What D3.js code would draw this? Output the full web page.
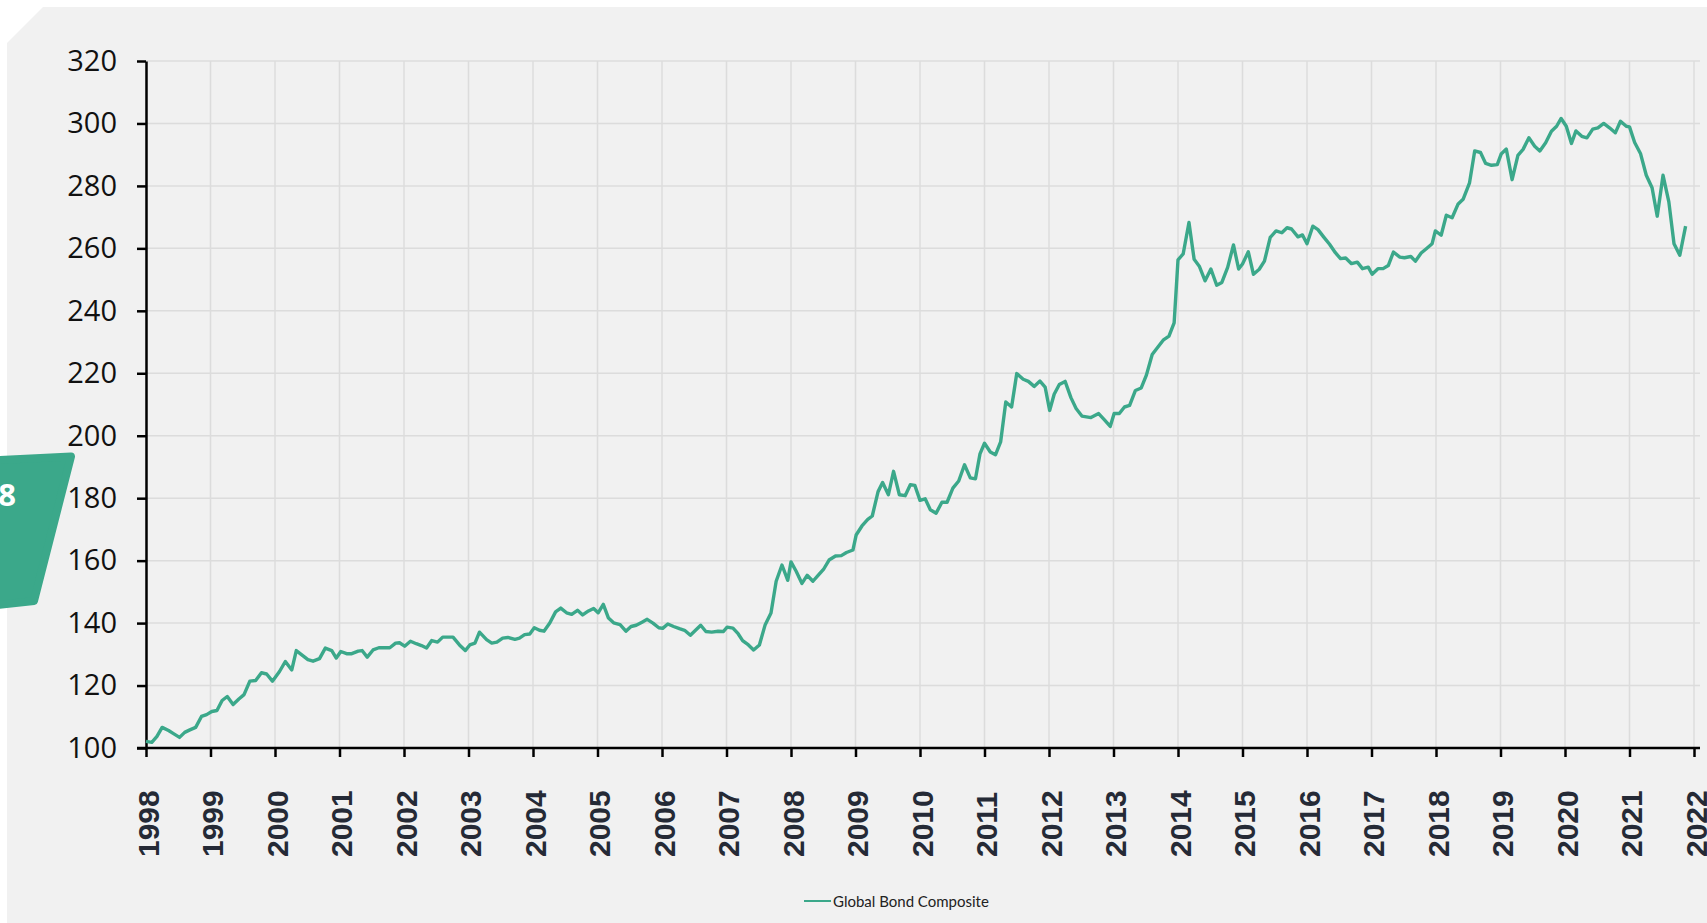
<!DOCTYPE html>
<html>
<head>
  <meta charset="utf-8">
  <title>Global Bond Composite</title>
  <script src="https://d3js.org/d3.v7.min.js"></script>
  <style>
    body { margin: 0; background: #fff; }
  </style>
</head>
<body>
<div id="chart"></div>
<script type="text/javascript">
  // series values (decimal year, index level)
  let dates = [
    1998.00,1998.09,1998.17,1998.25,1998.35,1998.42,1998.52,1998.60,1998.68,1998.77,1998.86,1998.94,
    1999.02,1999.10,1999.18,1999.26,1999.35,1999.44,1999.52,1999.61,1999.70,1999.79,1999.87,1999.96,
    2000.07,2000.16,2000.26,2000.33,2000.43,2000.51,2000.59,2000.69,2000.78,2000.88,2000.95,
    2001.02,2001.11,2001.19,2001.29,2001.35,2001.43,2001.52,2001.61,2001.78,2001.87,2001.93,
    2002.01,2002.10,2002.19,2002.27,2002.35,2002.43,2002.52,2002.60,2002.76,2002.86,2002.95,
    2003.02,2003.10,2003.17,2003.28,2003.36,2003.44,2003.53,2003.61,2003.72,2003.79,2003.87,2003.95,
    2004.02,2004.10,2004.17,2004.26,2004.35,2004.43,2004.52,2004.60,2004.69,2004.77,2004.86,2004.94,
    2005.01,2005.09,2005.17,2005.25,2005.35,2005.44,2005.52,2005.60,2005.69,2005.77,2005.86,2005.95,
    2006.01,2006.09,2006.18,2006.27,2006.35,2006.44,2006.52,2006.60,2006.68,2006.77,2006.87,2006.95,
    2007.01,2007.10,2007.18,2007.25,2007.34,2007.42,2007.51,2007.60,2007.69,2007.77,2007.86,2007.95,
    2008.00,2008.08,2008.17,2008.25,2008.34,2008.42,2008.51,2008.59,2008.69,2008.78,2008.86,2008.96,
    2009.01,2009.10,2009.19,2009.26,2009.35,2009.42,2009.51,2009.59,2009.68,2009.77,2009.85,2009.92,
    2010.00,2010.08,2010.16,2010.25,2010.34,2010.42,2010.51,2010.60,2010.69,2010.78,2010.86,2010.93,
    2011.00,2011.09,2011.17,2011.25,2011.33,2011.42,2011.50,2011.60,2011.68,2011.77,2011.86,2011.94,
    2012.01,2012.08,2012.16,2012.25,2012.34,2012.42,2012.51,2012.65,2012.77,2012.86,2012.95,
    2013.01,2013.09,2013.17,2013.25,2013.34,2013.43,2013.51,2013.60,2013.68,2013.77,2013.86,2013.94,
    2014.00,2014.08,2014.17,2014.25,2014.33,2014.42,2014.51,2014.60,2014.68,2014.77,2014.86,2014.94,
    2015.00,2015.09,2015.17,2015.26,2015.34,2015.43,2015.52,2015.61,2015.69,2015.76,2015.86,2015.93,
    2016.00,2016.09,2016.17,2016.26,2016.35,2016.44,2016.52,2016.60,2016.69,2016.78,2016.86,2016.95,
    2017.01,2017.10,2017.18,2017.26,2017.34,2017.44,2017.51,2017.61,2017.68,2017.77,2017.85,2017.94,
    2017.99,2018.08,2018.16,2018.25,2018.34,2018.42,2018.52,2018.60,2018.69,2018.77,2018.86,2018.95,
    2019.01,2019.09,2019.18,2019.27,2019.35,2019.44,2019.53,2019.61,2019.70,2019.79,2019.87,2019.94,
    2020.02,2020.10,2020.17,2020.26,2020.34,2020.43,2020.51,2020.60,2020.69,2020.78,2020.86,2020.95,
    2021.00,2021.08,2021.17,2021.26,2021.35,2021.43,2021.52,2021.61,2021.69,2021.78,2021.87
  ];
  let bondComposite = [
    102.1,101.8,103.7,106.6,105.6,104.7,103.4,105.0,105.8,106.6,110.1,110.7,
    111.7,112.0,115.2,116.5,113.9,115.7,117.1,121.4,121.6,124.1,123.7,121.4,
    124.5,127.7,125.0,131.2,129.6,128.3,127.8,128.6,132.0,131.2,128.8,
    130.9,130.2,130.2,131.0,131.2,129.1,131.4,132.1,132.1,133.6,133.7,
    132.6,134.2,133.4,132.8,132.0,134.4,133.9,135.5,135.5,133.0,131.2,
    133.0,133.6,137.1,134.7,133.6,133.9,135.2,135.4,134.8,135.2,136.3,136.5,
    138.5,137.7,137.4,140.0,143.6,144.8,143.3,142.8,144.1,142.6,143.9,144.7,
    143.3,146.0,141.6,140.1,139.5,137.4,138.9,139.3,140.3,141.2,140.0,138.5,
    138.3,139.7,138.9,138.2,137.7,136.1,137.7,139.3,137.3,137.1,137.4,137.3,
    138.7,138.4,136.6,134.4,133.0,131.4,133.0,139.5,143.2,153.4,158.6,153.7,
    159.6,156.6,152.7,155.3,153.4,155.3,157.4,160.2,161.5,161.6,162.6,163.4,
    168.2,171.1,173.2,174.3,182.1,185.0,181.1,188.6,181.1,180.8,184.3,184.1,
    179.3,179.8,176.3,175.2,178.7,178.7,183.2,185.5,190.7,186.5,186.2,194.2,
    197.6,194.8,193.9,198.0,210.8,209.2,219.9,218.1,217.4,215.8,217.5,215.6,
    208.1,213.3,216.4,217.4,212.2,208.7,206.3,205.8,207.1,205.1,203.0,
    207.1,207.1,209.2,209.7,214.5,215.3,219.4,226.0,228.2,230.6,231.9,236.1,
    256.3,258.2,268.3,256.5,254.3,249.6,253.4,248.2,249.1,253.9,261.1,253.4,
    255.0,258.9,251.7,253.3,255.9,263.5,265.6,265.0,266.6,266.2,263.7,264.3,
    261.5,267.1,266.0,263.6,261.3,258.6,256.7,256.9,255.1,255.6,253.5,254.0,
    251.7,253.5,253.5,254.5,258.8,257.2,257.0,257.4,255.9,258.5,259.9,261.5,
    265.6,264.2,270.6,269.8,274.1,275.7,281.0,291.2,290.7,287.2,286.6,286.8,
    290.2,291.8,282.0,289.8,291.7,295.4,292.7,291.2,293.8,297.5,299.1,301.6,
    299.1,293.6,297.6,295.9,295.4,298.2,298.6,300.0,298.6,297.0,300.7,299.1,
    298.9,293.9,290.4,283.4,279.4,270.3,283.4,274.9,261.5,257.8,267.1
  ];
  let yearTicks = d3.range(1998, 2023);
  let valueTicks = [100, 120, 140, 160, 180, 200, 220, 240, 260, 280, 300, 320];
  let seriesName = 'Global Bond Composite';

  let w = 1707;
  let h = 923;
  let green = '#3ba88a';

  let xScale = d3.scaleLinear()
                .domain([1998, 2022])
                .range([146, 1694]);

  let yScale = d3.scaleLinear()
                .domain([100, 320])
                .range([748, 61]);

  let svg = d3.select('#chart')
              .append('svg')
              .attr('width', w)
              .attr('height', h);

  // panel with the cut corner
  svg.append('path')
     .attr('d', 'M7,43 L43,7 L1707,7 L1707,923 L7,923 Z')
     .attr('fill', '#f1f1f1');

  // green page tab on the left edge
  svg.append('path')
     .attr('d', 'M-20,461 L71,456.5 L34,601 L-20,607 Z')
     .attr('fill', green)
     .attr('stroke', green)
     .attr('stroke-width', 8)
     .attr('stroke-linejoin', 'round');
  svg.append('text')
     .attr('x', 16)
     .attr('y', 506)
     .attr('text-anchor', 'end')
     .attr('font-family', 'Open Sans, sans-serif')
     .attr('font-weight', 'bold')
     .attr('font-size', '31px')
     .attr('fill', '#fff')
     .text('18');

  // grid
  svg.append('g')
     .selectAll('line')
     .data(valueTicks)
     .enter()
     .append('line')
     .attr('x1', xScale(1998))
     .attr('x2', 1700)
     .attr('y1', d => yScale(d))
     .attr('y2', d => yScale(d))
     .attr('stroke', '#dcdcdc')
     .attr('stroke-width', 1.5);
  svg.append('g')
     .selectAll('line')
     .data(yearTicks)
     .enter()
     .append('line')
     .attr('x1', d => xScale(d))
     .attr('x2', d => xScale(d))
     .attr('y1', yScale(320))
     .attr('y2', yScale(100))
     .attr('stroke', '#dcdcdc')
     .attr('stroke-width', 1.5);

  // y axis
  let yAxis = svg.append('g')
     .attr('transform', `translate(${xScale(1998)},0)`)
     .call(d3.axisLeft(yScale).tickValues(valueTicks).tickSize(9).tickSizeOuter(0).tickPadding(20));
  yAxis.select('.domain').attr('stroke', '#000').attr('stroke-width', 2.5);
  yAxis.selectAll('.tick line').attr('stroke', '#000').attr('stroke-width', 2.5);
  yAxis.selectAll('.tick text')
       .attr('font-family', 'Open Sans, sans-serif')
       .attr('font-size', '29px')
       .attr('fill', '#111');

  // x axis
  let xAxis = svg.append('g')
     .attr('transform', `translate(0,${yScale(100)})`)
     .call(d3.axisBottom(xScale).tickValues(yearTicks).tickFormat(d3.format('d')).tickSize(9).tickSizeOuter(0));
  xAxis.select('.domain')
       .attr('d', `M${xScale(1998) - 9},0H1700`)
       .attr('stroke', '#000').attr('stroke-width', 2.5);
  xAxis.selectAll('.tick line').attr('stroke', '#000').attr('stroke-width', 2.5);
  xAxis.selectAll('.tick text')
       .attr('transform', 'rotate(-90)')
       .attr('x', -109)
       .attr('y', 0)
       .attr('dy', '0.4em')
       .attr('text-anchor', 'start')
       .attr('font-family', 'Liberation Sans, Arial, sans-serif')
       .attr('font-weight', 'bold')
       .attr('font-size', '30px')
       .attr('fill', '#252a36');

  // the series
  let line = d3.line()
               .x((d, i) => xScale(dates[i]))
               .y(d => yScale(d));
  svg.append('path')
     .datum(bondComposite)
     .attr('d', line)
     .attr('fill', 'none')
     .attr('stroke', green)
     .attr('stroke-width', 3.4)
     .attr('stroke-linejoin', 'round');

  // legend
  let legend = svg.append('g').attr('transform', 'translate(804,901)');
  legend.append('line')
        .attr('x1', 0).attr('x2', 27)
        .attr('stroke', green)
        .attr('stroke-width', 2);
  legend.append('text')
        .attr('x', 29)
        .attr('y', 5.5)
        .attr('font-family', 'Lato, sans-serif')
        .attr('font-size', '15px')
        .attr('fill', '#222')
        .text(seriesName);
</script>
</body>
</html>
